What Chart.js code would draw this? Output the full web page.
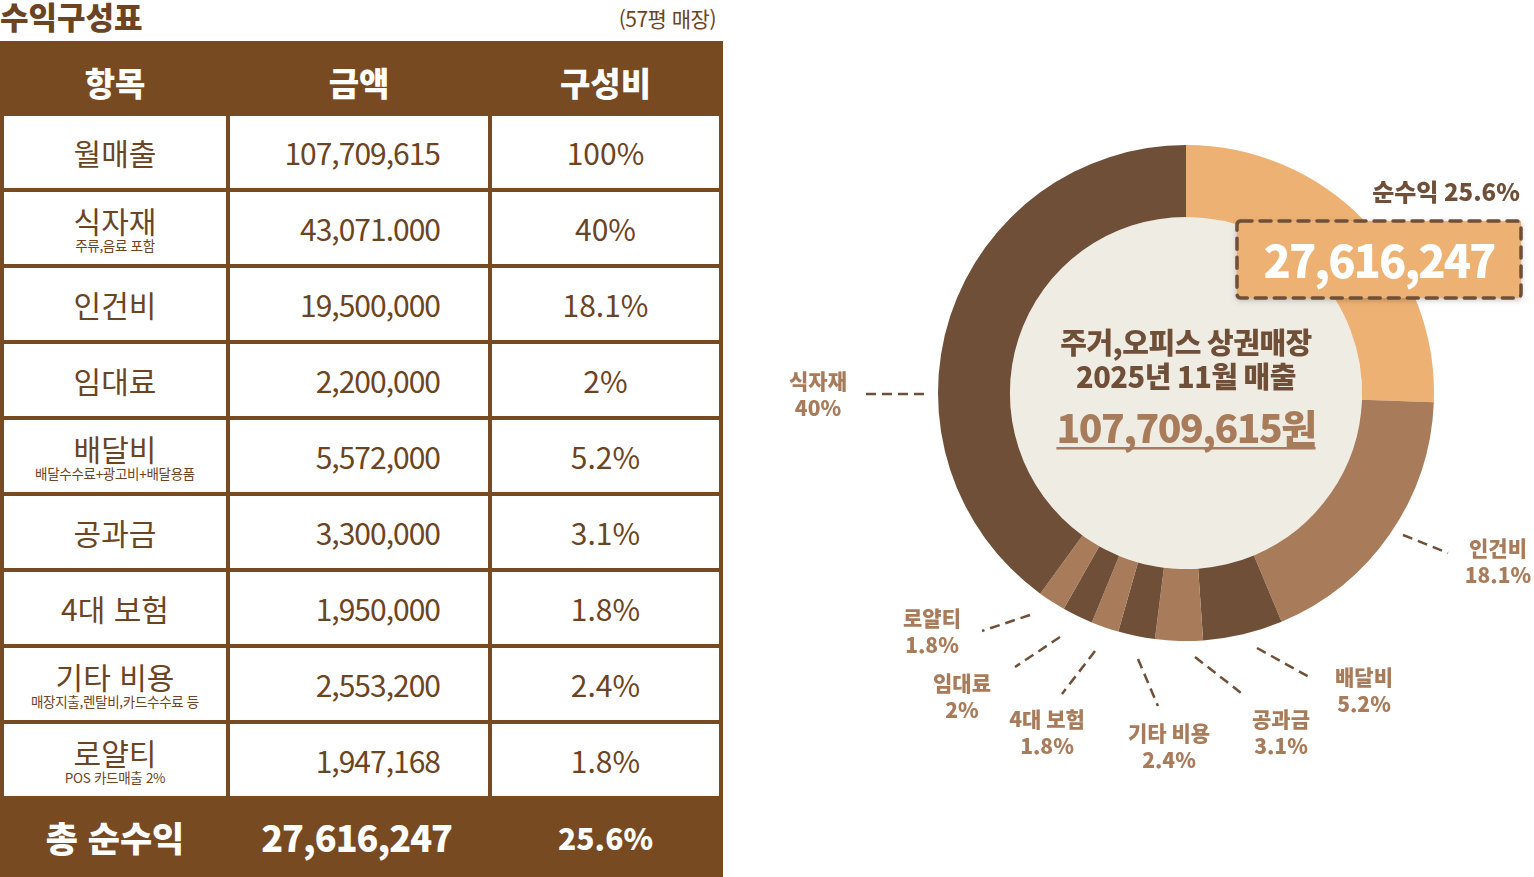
<!DOCTYPE html>
<html lang="ko">
<head>
<meta charset="utf-8">
<script src="https://cdn.jsdelivr.net/npm/chart.js@4"></script>
<style>
  html, body { margin: 0; padding: 0; background: #fff; }
  body { width: 1534px; height: 877px; position: relative; overflow: hidden;
         font-family: "Noto Sans CJK KR", "Noto Sans", sans-serif; color: #6B4423; }
  .title { position: absolute; left: 0; top: -7px; font-size: 31px; font-weight: 800; color: #6B4423; letter-spacing: 0px; }
  .unit { position: absolute; right: calc(1534px - 716px); top: 3px; font-size: 21px; color: #6B4423; letter-spacing: -0.5px; }
  table { position: absolute; left: 0; top: 41px; width: 719px; border-collapse: collapse; table-layout: fixed; }
  td, th { border: 4px solid #774A22; text-align: center; padding: 0; line-height: 1.1; }
  thead th { background: #774A22; color: #fff; font-size: 33px; font-weight: 800; height: 59px; padding-top: 8px; }
  tbody td { height: 72px; font-size: 30px; font-weight: 400; color: #6B4423; }
  tbody td.amt { text-align: right; padding-right: 48px; letter-spacing: -1px; }
  tbody td .sub { display: block; font-size: 13.5px; margin-top: 1px; letter-spacing: -0.3px; }
  tfoot td { background: #774A22; color: #fff; font-weight: 800; height: 74px; }
  #chartBox { position: absolute; left: 760px; top: 0; width: 774px; height: 877px; }
</style>
</head>
<body>
<div class="title">수익구성표</div>
<div class="unit">(57평 매장)</div>
<table id="tbl">
  <colgroup><col style="width:226px"><col style="width:262px"><col style="width:231px"></colgroup>
  <thead><tr id="head"></tr></thead>
  <tbody id="rows"></tbody>
  <tfoot><tr id="foot"></tr></tfoot>
</table>
<div id="chartBox"><canvas id="pieChart"></canvas></div>
<script>
// ---- table data ----
const headers = ["항목", "금액", "구성비"];
const items = ["월매출", "식자재", "인건비", "임대료", "배달비", "공과금", "4대 보험", "기타 비용", "로얄티"];
const itemNotes = ["", "주류,음료 포함", "", "", "배달수수료+광고비+배달용품", "", "", "매장지출,렌탈비,카드수수료 등", "POS 카드매출 2%"];
const amounts = ["107,709,615", "43,071.000", "19,500,000", "2,200,000", "5,572,000", "3,300,000", "1,950,000", "2,553,200", "1,947,168"];
const ratios = ["100%", "40%", "18.1%", "2%", "5.2%", "3.1%", "1.8%", "2.4%", "1.8%"];
const totalRow = ["총 순수익", "27,616,247", "25.6%"];

// ---- chart data (clockwise from top) ----
const sliceLabels = ["순수익", "인건비", "배달비", "공과금", "기타 비용", "4대 보험", "임대료", "로얄티", "식자재"];
const sliceValues = [25.6, 18.1, 5.2, 3.1, 2.4, 1.8, 2, 1.8, 40];
const centerLines = ["주거,오피스 상권매장", "2025년 11월 매출"];
const centerTotal = "107,709,615원";
const profitValue = "27,616,247";

const LIGHT = "#EDB173", MID = "#A87C5A", DARK = "#6F4F38";
const sliceColors = [LIGHT, MID, DARK, MID, DARK, MID, DARK, MID, DARK];

// build table
document.getElementById("head").innerHTML = headers.map(h => `<th>${h}</th>`).join("");
document.getElementById("rows").innerHTML = items.map((it, i) =>
  `<tr><td>${it}${itemNotes[i] ? `<span class="sub">${itemNotes[i]}</span>` : ""}</td>` +
  `<td class="amt">${amounts[i]}</td><td>${ratios[i]}</td></tr>`).join("");
document.getElementById("foot").innerHTML =
  `<td style="font-size:35px">${totalRow[0]}</td>` +
  `<td style="font-size:36px;letter-spacing:-1px;text-align:right;padding-right:36px">${totalRow[1]}</td>` +
  `<td style="font-size:30px">${totalRow[2]}</td>`;

// callout placement relative to the doughnut centre (px)
const callouts = {
  "인건비":   { line: [217, 142, 262, 160], text: [312, 168] },
  "배달비":   { line: [71, 255, 125, 285], text: [178, 297] },
  "공과금":   { line: [9, 264, 59, 303], text: [95, 339] },
  "기타 비용": { line: [-48, 266, -28, 313], text: [-17, 353] },
  "4대 보험": { line: [-91, 258, -124, 301], text: [-139, 339] },
  "임대료":   { line: [-126, 244, -171, 274], text: [-224, 303] },
  "로얄티":   { line: [-156, 222, -204, 238], text: [-254, 238] },
  "식자재":   { line: [-262, 1, -320, 1], text: [-368, 1] }
};

const FONT = '"Noto Sans CJK KR", "Noto Sans", sans-serif';

const decorPlugin = {
  id: "decor",
  beforeDatasetsDraw(chart) {
    const arc = chart.getDatasetMeta(0).data[0];
    const ctx = chart.ctx;
    ctx.save();
    ctx.fillStyle = "#EFECE4";
    ctx.beginPath();
    ctx.arc(arc.x, arc.y, arc.innerRadius, 0, Math.PI * 2);
    ctx.fill();
    ctx.restore();
  },
  afterDatasetsDraw(chart) {
    const ctx = chart.ctx;
    const meta = chart.getDatasetMeta(0);
    const cx = meta.data[0].x, cy = meta.data[0].y;
    ctx.save();
    ctx.textAlign = "center";
    ctx.textBaseline = "middle";

    // centre text
    ctx.fillStyle = DARK;
    ctx.font = `800 29px ${FONT}`;
    ctx.letterSpacing = "-0.5px";
    ctx.fillText(centerLines[0], cx, cy - 50);
    ctx.fillText(centerLines[1], cx, cy - 16);
    ctx.fillStyle = MID;
    ctx.font = `800 39px ${FONT}`;
    ctx.letterSpacing = "-1.5px";
    const w = ctx.measureText(centerTotal).width;
    ctx.fillText(centerTotal, cx, cy + 35);
    ctx.fillRect(cx - w / 2, cy + 54, w, 2.5);
    ctx.letterSpacing = "0px";

    // slice callouts
    sliceLabels.forEach((lab, i) => {
      const c = callouts[lab];
      if (!c) return;
      ctx.strokeStyle = DARK;
      ctx.lineWidth = 2.5;
      ctx.setLineDash([10, 6]);
      ctx.beginPath();
      ctx.moveTo(cx + c.line[0], cy + c.line[1]);
      ctx.lineTo(cx + c.line[2], cy + c.line[3]);
      ctx.stroke();
      ctx.setLineDash([]);
      ctx.fillStyle = MID;
      ctx.font = `800 21px ${FONT}`;
      ctx.fillText(lab, cx + c.text[0], cy + c.text[1] - 13);
      ctx.fillText(sliceValues[i] + "%", cx + c.text[0], cy + c.text[1] + 14);
    });

    // profit callout box
    ctx.fillStyle = DARK;
    ctx.font = `800 24px ${FONT}`;
    ctx.fillText(sliceLabels[0] + " " + sliceValues[0] + "%", cx + 260, cy - 201);

    const bx = cx + 51, by = cy - 172, bw = 284, bh = 77;
    ctx.shadowColor = "rgba(0,0,0,0.25)";
    ctx.shadowBlur = 6;
    ctx.shadowOffsetY = 2;
    ctx.fillStyle = LIGHT;
    ctx.fillRect(bx, by, bw, bh);
    ctx.shadowColor = "transparent";
    ctx.strokeStyle = DARK;
    ctx.lineWidth = 3.5;
    ctx.lineCap = "round";
    ctx.setLineDash([11, 8]);
    ctx.beginPath();
    ctx.roundRect(bx, by, bw, bh, 4);
    ctx.stroke();
    ctx.setLineDash([]);
    ctx.fillStyle = "#fff";
    ctx.font = `800 45px ${FONT}`;
    ctx.letterSpacing = "-2px";
    ctx.fillText(profitValue, bx + bw / 2, by + bh / 2 + 1);
    ctx.restore();
  }
};

const ctxPie = document.getElementById("pieChart").getContext("2d");
const pieChart = new Chart(ctxPie, {
  type: "doughnut",
  data: {
    labels: sliceLabels,
    datasets: [{
      data: sliceValues,
      backgroundColor: sliceColors,
      borderWidth: 0
    }]
  },
  options: {
    responsive: true,
    maintainAspectRatio: false,
    animation: false,
    cutout: "71%",
    layout: { padding: { left: 178, right: 100, top: 145, bottom: 236 } },
    plugins: {
      legend: { display: false },
      tooltip: { enabled: false }
    }
  },
  plugins: [decorPlugin]
});
</script>
</body>
</html>
